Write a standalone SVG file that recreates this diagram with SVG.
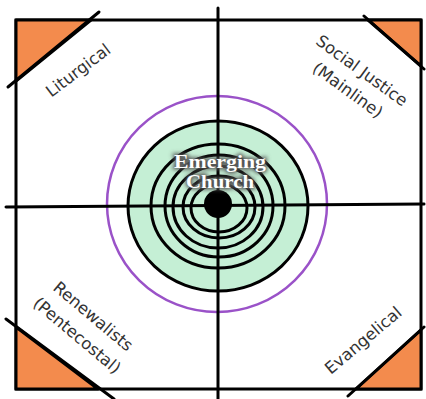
<svg xmlns="http://www.w3.org/2000/svg" width="426" height="399" viewBox="0 0 426 399">
<style>
.ln{stroke:#000;stroke-width:3;fill:none;stroke-linecap:round}
.tri{fill:#f38b4d;stroke:#000;stroke-width:3;stroke-linejoin:round}
.lbl{font-family:"DejaVu Sans",sans-serif;font-size:16.5px;fill:#333;text-anchor:middle}
.ring{fill:none;stroke:#000;stroke-width:3}
.ec{font-family:"Liberation Serif",serif;font-size:18px;text-anchor:middle;font-weight:bold}
</style>
<defs>
<filter id="glow" x="-30%" y="-60%" width="160%" height="220%">
<feGaussianBlur stdDeviation="2.2"/>
</filter>
</defs>
<rect width="426" height="399" fill="#fff"/>
<g id="frame">
<rect x="16" y="20" width="405" height="369" fill="#fff" stroke="#000" stroke-width="3"/>
</g>
<g id="corners">
<polygon class="tri" points="16,20 91,20 16,81"/>
<polygon class="tri" points="368,20 421,20 421,66"/>
<polygon class="tri" points="16,327 16,389 98,389"/>
<polygon class="tri" points="356,389 421,389 421,330"/>
</g>
<g id="target">
<ellipse cx="217" cy="204" rx="110" ry="108" fill="none" stroke="#9a52c8" stroke-width="2.5"/>
<ellipse cx="218" cy="206" rx="90" ry="85" fill="#c5efd5" stroke="#000" stroke-width="3"/>
</g>
<g id="connectors">
<line class="ln" x1="218" y1="8" x2="218" y2="399"/>
<line class="ln" x1="6" y1="207" x2="424" y2="204"/>
<line class="ln" x1="99" y1="12" x2="8" y2="87"/>
<line class="ln" x1="364" y1="16" x2="424" y2="69"/>
<line class="ln" x1="6" y1="319" x2="114" y2="399"/>
<line class="ln" x1="348" y1="396" x2="424" y2="327"/>
</g>
<g id="rings">
<ellipse class="ring" cx="218" cy="206" rx="67" ry="62"/>
<ellipse class="ring" cx="219" cy="206" rx="54" ry="51"/>
<ellipse class="ring" cx="218" cy="207" rx="45" ry="41"/>
<ellipse class="ring" cx="219" cy="207" rx="36" ry="31"/>
<ellipse class="ring" cx="219" cy="208" rx="28" ry="24"/>
<circle cx="218" cy="204" r="14" fill="#000"/>
</g>
<g id="emerging">
<g filter="url(#glow)">
<text class="ec" x="220" y="168" fill="#555" stroke="#555" stroke-width="3" textLength="92" lengthAdjust="spacingAndGlyphs">Emerging</text>
<text class="ec" x="220" y="188" fill="#555" stroke="#555" stroke-width="3" textLength="68" lengthAdjust="spacingAndGlyphs">Church</text>
</g>
<text class="ec" x="220" y="168" fill="#fff" textLength="92" lengthAdjust="spacingAndGlyphs">Emerging</text>
<text class="ec" x="220" y="188" fill="#fff" textLength="68" lengthAdjust="spacingAndGlyphs">Church</text>
</g>
<g id="liturgical">
<text class="lbl" transform="translate(78,70) rotate(-37)" y="6">Liturgical</text>
</g>
<g id="social">
<g transform="translate(355,80) rotate(36)">
<text class="lbl" y="-6">Social Justice</text>
<text class="lbl" y="18">(Mainline)</text>
</g>
</g>
<g id="renewalists">
<g transform="translate(85,326) rotate(40)">
<text class="lbl" y="-7">Renewalists</text>
<text class="lbl" y="18">(Pentecostal)</text>
</g>
</g>
<g id="evangelical">
<text class="lbl" transform="translate(363,340) rotate(-40)" y="6">Evangelical</text>
</g>
</svg>
